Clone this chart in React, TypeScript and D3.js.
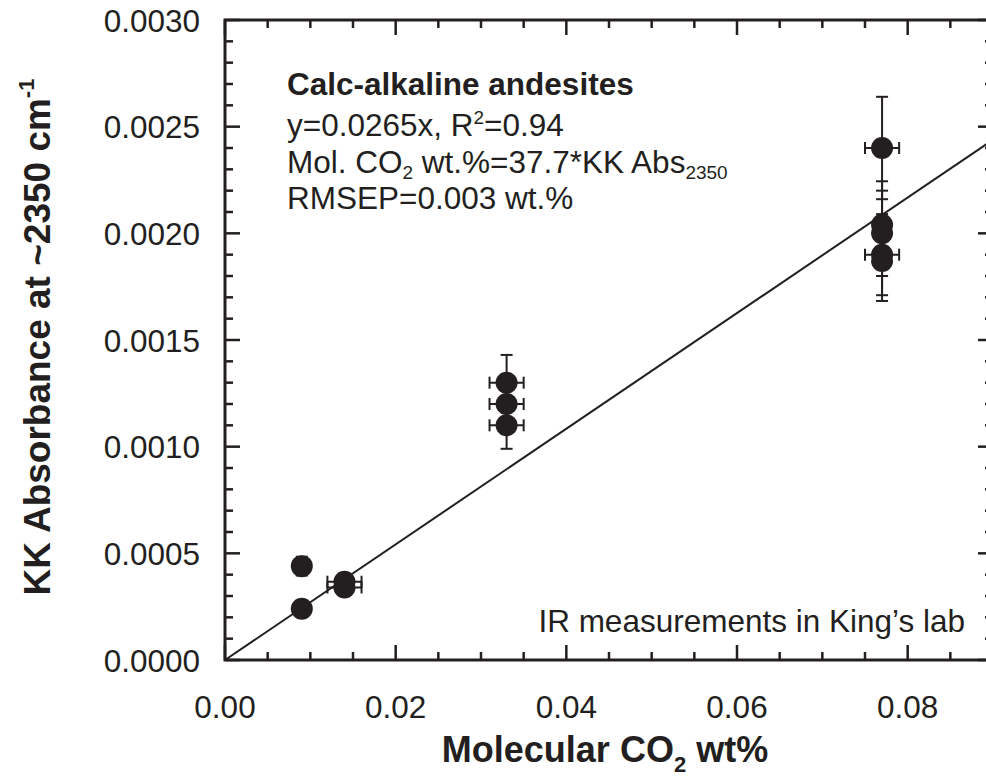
import React, { useEffect, useRef } from 'react';
import * as d3 from 'd3';

// axis ticks
const xTicks = [0, 0.02, 0.04, 0.06, 0.08];
const yTicks = [0, 0.0005, 0.001, 0.0015, 0.002, 0.0025, 0.003];

// samples: molecular CO2 (wt%) vs KK absorbance at ~2350 cm-1
const xValues = [0.009, 0.009, 0.014, 0.014, 0.033, 0.033, 0.033, 0.077, 0.077, 0.077, 0.077, 0.077];
const yValues = [0.00044, 0.00024, 0.000367, 0.00034, 0.0013, 0.0012, 0.0011, 0.0024, 0.00204, 0.002, 0.0019, 0.00187];
const xErrors = [0, 0, 0.002, 0.002, 0.002, 0.002, 0.002, 0.002, 0, 0, 0.002, 0];
const yErrors = [0.000044, 0.000024, 0.000037, 0.000034, 0.00013, 0.00012, 0.00011, 0.00024, 0.000204, 0.0002, 0.00019, 0.000187];

// slope of the drawn regression line (through origin)
const fitSlope = 0.0271;

const INK = '#231f20';
const FONT = '"Liberation Sans", Arial, Helvetica, sans-serif';

const App: React.FC = () => {
  const svgRef = useRef<SVGSVGElement>(null);

  useEffect(() => {
    if (!svgRef.current) return;
    const svg = d3.select(svgRef.current);
    svg.selectAll('*').remove();

    const x = d3.scaleLinear().domain([0, 0.09]).range([225, 993]);
    const y = d3.scaleLinear().domain([0, 0.003]).range([660, 20]);

    const g = svg.append('g').attr('font-family', FONT).attr('fill', INK);

    // regression line
    g.append('line')
      .attr('x1', x(0))
      .attr('y1', y(0))
      .attr('x2', x(0.09))
      .attr('y2', y(fitSlope * 0.09))
      .attr('stroke', INK)
      .attr('stroke-width', 2);

    // ticks (inward on all four sides)
    const xMinor = d3.range(0, 0.0901, 0.005);
    const yMinor = d3.range(0, 0.00301, 0.0001);
    const isMajor = (v: number, step: number) => Math.abs(v / step - Math.round(v / step)) < 1e-6;

    const ticks = g.append('g').attr('stroke', INK).attr('stroke-width', 2.5);
    xMinor.forEach((v) => {
      const len = isMajor(v, 0.02) ? 15 : 8;
      ticks.append('line').attr('x1', x(v)).attr('x2', x(v)).attr('y1', y(0)).attr('y2', y(0) - len);
      ticks.append('line').attr('x1', x(v)).attr('x2', x(v)).attr('y1', y(0.003)).attr('y2', y(0.003) + len);
    });
    yMinor.forEach((v) => {
      const len = isMajor(v, 0.0005) ? 15 : 8;
      ticks.append('line').attr('x1', x(0)).attr('x2', x(0) + len).attr('y1', y(v)).attr('y2', y(v));
      ticks.append('line').attr('x1', x(0.09)).attr('x2', x(0.09) - len).attr('y1', y(v)).attr('y2', y(v));
    });

    // frame
    g.append('rect')
      .attr('x', x(0))
      .attr('y', y(0.003))
      .attr('width', x(0.09) - x(0))
      .attr('height', y(0) - y(0.003))
      .attr('fill', 'none')
      .attr('stroke', INK)
      .attr('stroke-width', 3);

    // tick labels
    g.selectAll('.xlab')
      .data(xTicks)
      .enter()
      .append('text')
      .attr('x', (d) => x(d))
      .attr('y', 718)
      .attr('text-anchor', 'middle')
      .style('font-size', '31.5px')
      .text((d) => d3.format('.2f')(d));

    g.selectAll('.ylab')
      .data(yTicks)
      .enter()
      .append('text')
      .attr('x', 200)
      .attr('y', (d) => y(d) + 11.5)
      .attr('text-anchor', 'end')
      .style('font-size', '31.5px')
      .text((d) => d3.format('.4f')(d));

    // error bars
    const idx = d3.range(xValues.length);
    const eb = g.append('g').attr('stroke', INK).attr('stroke-width', 2);
    const cap = 6;
    idx.forEach((i) => {
      const cx = x(xValues[i]);
      const cy = y(yValues[i]);
      if (yErrors[i] > 0) {
        const t = y(yValues[i] + yErrors[i]);
        const b = y(yValues[i] - yErrors[i]);
        eb.append('line').attr('x1', cx).attr('x2', cx).attr('y1', t).attr('y2', b);
        eb.append('line').attr('x1', cx - cap).attr('x2', cx + cap).attr('y1', t).attr('y2', t);
        eb.append('line').attr('x1', cx - cap).attr('x2', cx + cap).attr('y1', b).attr('y2', b);
      }
      if (xErrors[i] > 0) {
        const l = x(xValues[i] - xErrors[i]);
        const r = x(xValues[i] + xErrors[i]);
        eb.append('line').attr('x1', l).attr('x2', r).attr('y1', cy).attr('y2', cy);
        eb.append('line').attr('x1', l).attr('x2', l).attr('y1', cy - cap).attr('y2', cy + cap);
        eb.append('line').attr('x1', r).attr('x2', r).attr('y1', cy - cap).attr('y2', cy + cap);
      }
    });

    // points
    g.selectAll('.pt')
      .data(idx)
      .enter()
      .append('circle')
      .attr('cx', (i) => x(xValues[i]))
      .attr('cy', (i) => y(yValues[i]))
      .attr('r', 11)
      .attr('fill', INK);

    // annotation block
    g.append('text')
      .attr('x', 287)
      .attr('y', 95)
      .style('font-size', '31.5px')
      .style('font-weight', 'bold')
      .text('Calc-alkaline andesites');

    const l2 = g.append('text').attr('x', 287).attr('y', 136).style('font-size', '31.5px');
    l2.append('tspan').text('y=0.0265x, R');
    l2.append('tspan').attr('dy', -12).style('font-size', '19px').text('2');
    l2.append('tspan').attr('dy', 12).text('=0.94');

    const l3 = g.append('text').attr('x', 287).attr('y', 173).style('font-size', '31.5px');
    l3.append('tspan').text('Mol. CO');
    l3.append('tspan').attr('dy', 6).style('font-size', '19px').text('2');
    l3.append('tspan').attr('dy', -6).text(' wt.%=37.7*KK Abs');
    l3.append('tspan').attr('dy', 6).style('font-size', '19px').text('2350');

    g.append('text')
      .attr('x', 287)
      .attr('y', 209)
      .style('font-size', '31.5px')
      .text('RMSEP=0.003 wt.%');

    g.append('text')
      .attr('x', 965)
      .attr('y', 632)
      .attr('text-anchor', 'end')
      .style('font-size', '31.5px')
      .text('IR measurements in King\u2019s lab');

    // axis titles
    const xt = g.append('text')
      .attr('x', 605)
      .attr('y', 762)
      .attr('text-anchor', 'middle')
      .style('font-size', '36px')
      .style('font-weight', 'bold');
    xt.append('tspan').text('Molecular CO');
    xt.append('tspan').attr('dy', 10).style('font-size', '22px').text('2');
    xt.append('tspan').attr('dy', -10).text(' wt%');

    const yt = g.append('text')
      .attr('transform', 'translate(50,337) rotate(-90)')
      .attr('text-anchor', 'middle')
      .style('font-size', '37px')
      .style('font-weight', 'bold');
    yt.append('tspan').text('KK Absorbance at ~2350 cm');
    yt.append('tspan').attr('dy', -16).style('font-size', '22px').text('-1');
  }, []);

  return (
    <svg
      ref={svgRef}
      width={986}
      height={784}
      style={{ position: 'absolute', left: 0, top: 0, background: '#fff' }}
    />
  );
};

export default App;
